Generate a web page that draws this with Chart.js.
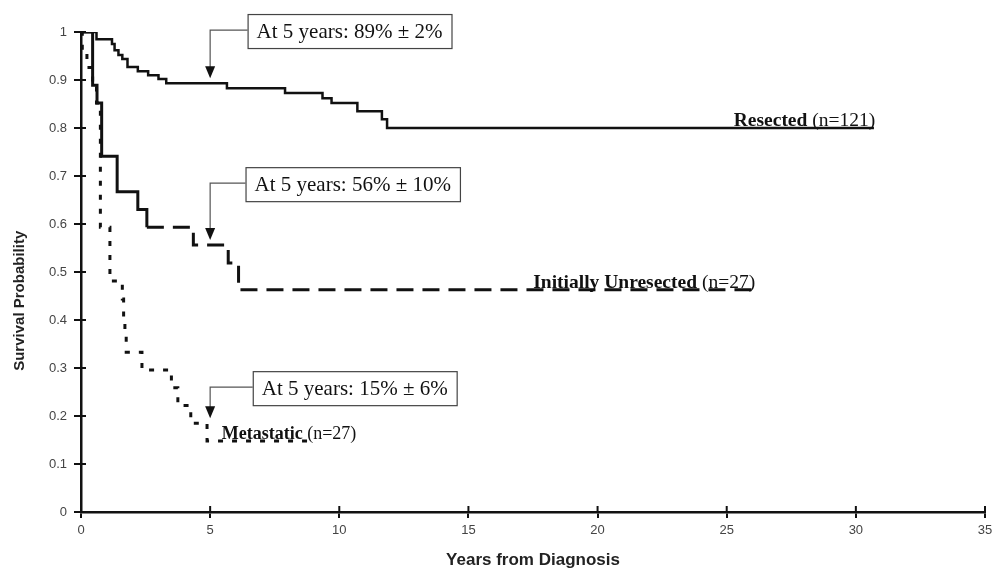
<!DOCTYPE html>
<html lang="en">
<head>
  <meta charset="UTF-8">
  <title>Survival by Group</title>
  <script src="https://cdn.jsdelivr.net/npm/chart.js"></script>
  <style>
    html, body { margin: 0; padding: 0; background: #fff; }
    #wrap { width: 1001px; height: 571px; position: relative; }
  </style>
</head>
<body>
<div id="wrap"><canvas id="survChart" width="1001" height="571"></canvas></div>

<script>
  // Kaplan-Meier steps (years, survival probability)
  const resectedYears = [0, 0.6, 1.2, 1.3, 1.45, 1.6, 1.8, 2.2, 2.6, 3.0, 3.3, 5.65, 7.9, 9.35, 9.7, 10.7, 11.65, 11.85, 30.7];
  const resectedSurv  = [1, 0.985, 0.975, 0.962, 0.952, 0.944, 0.927, 0.918, 0.91, 0.902, 0.893, 0.883, 0.873, 0.862, 0.852, 0.835, 0.818, 0.80, 0.80];

  const unresectedYears = [0, 0.45, 0.62, 0.8, 1.4, 2.2, 2.55, 4.35, 5.7, 6.1, 26.1];
  const unresectedSurv  = [1, 0.889, 0.852, 0.741, 0.667, 0.630, 0.593, 0.556, 0.519, 0.463, 0.463];

  const metastaticYears = [0, 0.05, 0.23, 0.45, 0.6, 0.75, 1.12, 1.6, 1.65, 1.7, 1.75, 2.36, 3.5, 3.75, 4.25, 4.88, 8.8];
  const metastaticSurv  = [1, 0.963, 0.926, 0.889, 0.852, 0.593, 0.481, 0.444, 0.407, 0.370, 0.333, 0.296, 0.259, 0.222, 0.185, 0.148, 0.148];

  const groupNames = ['Resected', 'Initially Unresected', 'Metastatic'];
  const groupCounts = ['(n=121)', '(n=27)', '(n=27)'];

  // 5-year callouts
  const callTexts = ['At 5 years: 89% \u00b1 2%', 'At 5 years: 56% \u00b1 10%', 'At 5 years: 15% \u00b1 6%'];
  const callSurvAt5 = [0.893, 0.556, 0.185];

  const xTicks = [0, 5, 10, 15, 20, 25, 30, 35];
  const yTicks = [0, 0.1, 0.2, 0.3, 0.4, 0.5, 0.6, 0.7, 0.8, 0.9, 1];

  function toPoints(xs, ys) {
    return xs.map((x, i) => ({ x: x, y: ys[i] }));
  }

  const serif = '"Liberation Serif", "Times New Roman", serif';
  const sans = '"Liberation Sans", Arial, sans-serif';

  // layout of the callout boxes and end labels (data units)
  const callBoxes = [
    { year: 6.45, surv: 1.002 },
    { year: 6.37, surv: 0.683 },
    { year: 6.65, surv: 0.258 }
  ];
  const endLabels = [
    { year: 30.75, surv: 0.80, align: 'right', size: 19.5 },
    { year: 26.1, surv: 0.463, align: 'right', size: 19.5 },
    { year: 5.45, surv: 0.148, align: 'left', size: 18 }
  ];

  const decorPlugin = {
    id: 'decor',
    afterDatasetsDraw(chart) {
      const ctx = chart.ctx;
      const xs = chart.scales.x;
      const ys = chart.scales.y;
      ctx.save();

      // inner halves of the tick marks
      ctx.strokeStyle = '#111';
      ctx.lineWidth = 2;
      yTicks.forEach(v => {
        const py = ys.getPixelForValue(v);
        ctx.beginPath();
        ctx.moveTo(xs.left, py);
        ctx.lineTo(xs.left + 5, py);
        ctx.stroke();
      });
      xTicks.forEach(v => {
        const px = xs.getPixelForValue(v);
        ctx.beginPath();
        ctx.moveTo(px, ys.bottom);
        ctx.lineTo(px, ys.bottom - 6);
        ctx.stroke();
      });

      // y axis title, sits a little below the middle of the axis
      ctx.save();
      ctx.translate(20, ys.getPixelForValue(0.44));
      ctx.rotate(-Math.PI / 2);
      ctx.font = 'bold 15px ' + sans;
      ctx.fillStyle = '#222';
      ctx.textAlign = 'center';
      ctx.textBaseline = 'middle';
      ctx.fillText('Survival Probability', 0, 0);
      ctx.restore();

      // callouts
      ctx.font = '21px ' + serif;
      ctx.textBaseline = 'middle';
      callTexts.forEach((t, i) => {
        const bx = xs.getPixelForValue(callBoxes[i].year);
        const by = ys.getPixelForValue(callBoxes[i].surv);
        const w = ctx.measureText(t).width + 18;
        const h = 34;
        ctx.fillStyle = '#fff';
        ctx.fillRect(bx, by - h / 2, w, h);
        ctx.strokeStyle = '#444';
        ctx.lineWidth = 1.2;
        ctx.strokeRect(bx + 0.5, by - h / 2 + 0.5, w, h);
        ctx.fillStyle = '#111';
        ctx.textAlign = 'left';
        ctx.fillText(t, bx + 9, by + 1);

        const tipX = xs.getPixelForValue(5);
        const tipY = ys.getPixelForValue(callSurvAt5[i]) - 5;
        ctx.strokeStyle = '#555';
        ctx.lineWidth = 1.2;
        ctx.beginPath();
        ctx.moveTo(bx, by - 1);
        ctx.lineTo(tipX, by - 1);
        ctx.lineTo(tipX, tipY - 10);
        ctx.stroke();
        ctx.fillStyle = '#111';
        ctx.beginPath();
        ctx.moveTo(tipX - 5, tipY - 12);
        ctx.lineTo(tipX + 5, tipY - 12);
        ctx.lineTo(tipX, tipY);
        ctx.closePath();
        ctx.fill();
      });

      // group labels sitting on the curves
      ctx.textBaseline = 'alphabetic';
      ctx.textAlign = 'left';
      groupNames.forEach((name, i) => {
        const lab = endLabels[i];
        const boldFont = 'bold ' + lab.size + 'px ' + serif;
        const normFont = lab.size + 'px ' + serif;
        ctx.font = boldFont;
        const wName = ctx.measureText(name + ' ').width;
        ctx.font = normFont;
        const wCount = ctx.measureText(groupCounts[i]).width;
        let x = xs.getPixelForValue(lab.year);
        if (lab.align === 'right') x -= wName + wCount;
        const y = ys.getPixelForValue(lab.surv) - 2;
        ctx.fillStyle = '#111';
        ctx.font = boldFont;
        ctx.fillText(name, x, y);
        ctx.font = normFont;
        ctx.fillText(groupCounts[i], x + wName, y);
      });

      ctx.restore();
    }
  };

  const ctx = document.getElementById('survChart');
  const chart = new Chart(ctx, {
    type: 'line',
    data: {
      datasets: [
        {
          label: groupNames[0],
          data: toPoints(resectedYears, resectedSurv),
          borderColor: '#111',
          borderWidth: 2.5,
          stepped: 'before',
          pointRadius: 0,
          fill: false
        },
        {
          label: groupNames[1],
          data: toPoints(unresectedYears, unresectedSurv),
          borderColor: '#111',
          borderWidth: 3,
          stepped: 'before',
          pointRadius: 0,
          fill: false,
          segment: {
            borderDash: c => (c.p0.parsed.x >= 2.5 ? [17, 9] : undefined)
          }
        },
        {
          label: groupNames[2],
          data: toPoints(metastaticYears, metastaticSurv),
          borderColor: '#111',
          borderWidth: 3,
          borderDash: [5, 9],
          stepped: 'before',
          pointRadius: 0,
          fill: false
        }
      ]
    },
    options: {
      responsive: false,
      animation: false,
      layout: { padding: { top: 32, right: 16, left: 0, bottom: 0 } },
      plugins: {
        legend: { display: false },
        tooltip: { enabled: false }
      },
      scales: {
        x: {
          type: 'linear',
          min: 0,
          max: 35,
          afterFit: s => { s.height = 59; },
          afterBuildTicks: s => { s.ticks = xTicks.map(v => ({ value: v })); },
          ticks: {
            color: '#444',
            font: { family: sans, size: 13 },
            padding: 5
          },
          grid: { display: true, drawOnChartArea: false, drawTicks: true, tickLength: 6, color: '#111', lineWidth: 2 },
          border: { display: true, color: '#111', width: 2.5 },
          title: {
            display: true,
            text: 'Years from Diagnosis',
            color: '#222',
            font: { family: sans, size: 17, weight: 'bold' },
            padding: { top: 0, bottom: 0 }
          }
        },
        y: {
          min: 0,
          max: 1,
          afterFit: s => { s.width = 81; },
          afterBuildTicks: s => { s.ticks = yTicks.map(v => ({ value: v })); },
          ticks: {
            color: '#444',
            font: { family: sans, size: 13 },
            padding: 7,
            callback: v => String(Math.round(v * 10) / 10)
          },
          grid: { display: true, drawOnChartArea: false, drawTicks: true, tickLength: 7, color: '#111', lineWidth: 2 },
          border: { display: true, color: '#111', width: 2.5 },
          title: { display: false }
        }
      }
    },
    plugins: [decorPlugin]
  });
</script>
</body>
</html>
